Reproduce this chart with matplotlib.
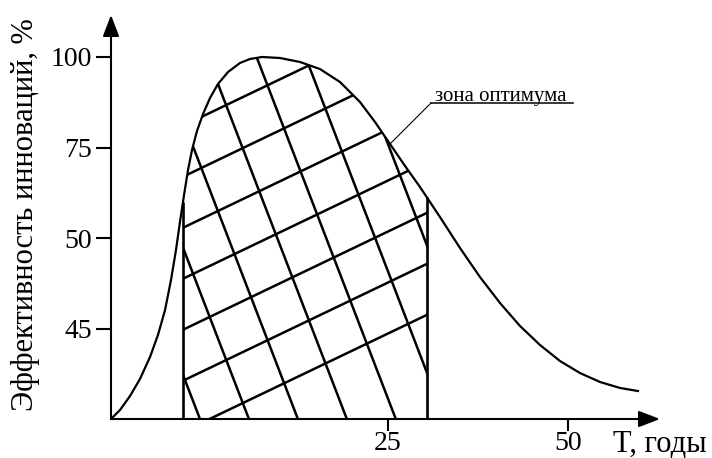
import numpy as np
import matplotlib
matplotlib.use("Agg")
import matplotlib.pyplot as plt
from matplotlib.collections import LineCollection
from matplotlib.patches import Polygon

plt.rcParams['font.family'] = ['Liberation Serif', 'DejaVu Serif']

# жизненный цикл инновации, условные единицы шкалы (1 деление = 1)
t_curve = [0.0, 0.099, 0.210, 0.320, 0.431, 0.519, 0.597, 0.663, 0.718, 0.762,
           0.807, 0.851, 0.895, 0.950, 1.017, 1.094, 1.182, 1.293, 1.425, 1.536,
           1.669, 1.867, 2.088, 2.309, 2.530, 2.751, 2.917, 3.083, 3.249, 3.414,
           3.635, 3.856, 4.077, 4.298, 4.519, 4.740, 4.961, 5.182, 5.403, 5.624,
           5.823]
e_curve = [0.0, 0.099, 0.254, 0.442, 0.685, 0.928, 1.204, 1.536, 1.867, 2.177,
           2.475, 2.751, 2.972, 3.182, 3.370, 3.547, 3.702, 3.834, 3.934, 3.978,
           4.0, 3.989, 3.945, 3.867, 3.724, 3.503, 3.282, 3.039, 2.796, 2.564,
           2.232, 1.890, 1.569, 1.282, 1.028, 0.818, 0.641, 0.508, 0.409, 0.343,
           0.309]

y_ticks = [1, 2, 3, 4]
y_tick_labels = ["45", "50", "75", "100"]
x_ticks = [3.06, 5.05]
x_tick_labels = ["25", "50"]

# границы зоны оптимума
zone_start = 0.795
zone_end = 3.49
leader_t = 3.083

px = 90.5  # пикселей на деление
fig = plt.figure(figsize=(7.12, 4.58), dpi=100)
ax = fig.add_axes([111 / 712, 39 / 458, 549 / 712, 404 / 458])
ax.set_xlim(0, 549 / px)
ax.set_ylim(0, 404 / px)
for s in ax.spines.values():
    s.set_visible(False)

# оси со стрелками
arrow = dict(arrowstyle='-|>,head_length=1.3,head_width=0.5', lw=1.5, color='k',
             shrinkA=0, shrinkB=0)
ax.annotate('', xy=(1, 0), xytext=(0, 0), xycoords='axes fraction', arrowprops=arrow)
ax.annotate('', xy=(0, 1), xytext=(0, 0), xycoords='axes fraction', arrowprops=arrow)

ax.set_yticks(y_ticks, y_tick_labels)
ax.set_xticks(x_ticks, x_tick_labels)
ax.tick_params(axis='y', direction='out', length=10.8, width=1.5, pad=3, labelsize=20)
ax.tick_params(axis='x', direction='out', length=8.6, width=1.5, pad=0, labelsize=20)

t = np.array(t_curve)
e = np.array(e_curve)
ax.plot(t, e, color='k', lw=1.6, solid_joinstyle='round')

# область под кривой между границами зоны
e_start = np.interp(zone_start, t, e)
e_end = np.interp(zone_end, t, e)
inside = (t > zone_start) & (t < zone_end)
zx = [zone_start, zone_start] + list(t[inside]) + [zone_end, zone_end]
zy = [0, e_start] + list(e[inside]) + [e_end, 0]
zone = Polygon(np.column_stack([zx, zy]), closed=True, fc='none', ec='none')
ax.add_patch(zone)

# сетчатая штриховка
segs = []
k_flat = np.tan(np.radians(25.6))
for v0 in 3.24 - 0.5635 * np.arange(7):
    u = np.array([zone_start - 0.5, zone_end + 0.5])
    segs.append(np.column_stack([u, v0 + k_flat * (u - zone_start)]))
k_steep = 2.6
for u0 in 0.983 + 0.541 * np.arange(8):
    v = np.array([-0.5, 4.5])
    segs.append(np.column_stack([u0 - v / k_steep, v]))
hatch = LineCollection(segs, colors='k', linewidths=1.8)
ax.add_collection(hatch)
hatch.set_clip_path(zone)

ax.vlines([zone_start, zone_end], 0, [e_start, e_end], colors='k', lw=1.9)

# выноска
lead_e = np.interp(leader_t, t, e)
ax.plot([leader_t, leader_t + 0.453], [lead_e, lead_e + 0.453], color='k', lw=0.8)
ax.plot([leader_t + 0.453, 5.105], [lead_e + 0.453] * 2, color='k', lw=1.1)
ax.text(3.58, lead_e + 0.475, "зона оптимума", fontsize=15, ha='left', va='baseline')

fig.text(26 / 712, 1 - 215 / 458, "Эффективность инноваций, %", rotation=90,
         fontsize=22, ha='center', va='center')
ax.text(5.547, -0.365, "T, годы", fontsize=22, ha='left', va='baseline', clip_on=False)

fig.savefig("out.png", dpi=100, facecolor='white')
